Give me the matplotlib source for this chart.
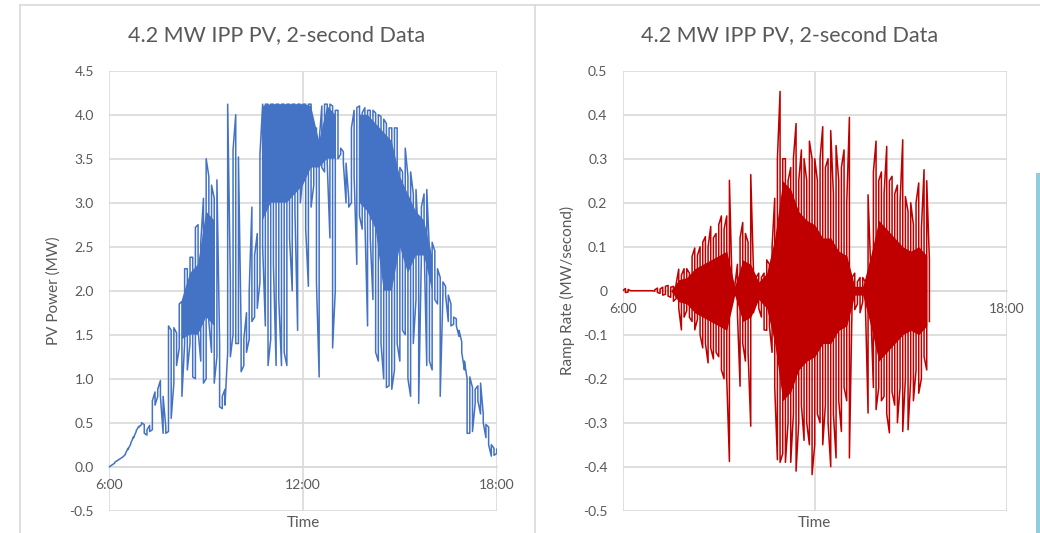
import matplotlib
matplotlib.use('Agg')
import matplotlib.pyplot as plt
import numpy as np
from matplotlib.lines import Line2D
from matplotlib.patches import Rectangle

plt.rcParams['font.family'] = ['Lato', 'DejaVu Sans']

# PV power (MW), max / min seen in each 5-minute slot from 6:00 to 18:00
pv_hi = [
    0.00, 0.02, 0.05, 0.07, 0.09, 0.11, 0.15, 0.21, 0.27, 0.34, 0.41, 0.46,   # 6
    0.50, 0.48, 0.42, 0.47, 0.75, 0.85, 0.88, 0.98, 0.80, 0.45, 1.60, 1.55,   # 7
    1.58, 1.52, 1.85, 1.88, 2.25, 2.25, 2.38, 2.38, 2.72, 2.75, 2.55, 3.05,   # 8
    3.50, 3.30, 3.20, 3.05, 3.26, 1.40, 0.80, 0.88, 4.12, 2.10, 3.60, 4.00,   # 9
    3.52, 1.55, 1.45, 1.75, 2.00, 2.95, 2.40, 2.65, 3.55, 4.12, 4.12, 4.12,   # 10
    4.12, 4.12, 4.12, 4.12, 4.12, 4.12, 4.12, 4.12, 4.12, 4.12, 4.12, 4.12,   # 11
    4.12, 4.12, 4.12, 4.12, 3.75, 3.85, 3.70, 4.10, 4.12, 4.12, 4.12, 4.10,   # 12
    4.05, 4.05, 3.62, 3.58, 3.45, 3.05, 3.85, 4.05, 4.08, 4.10, 4.02, 4.08,   # 13
    4.05, 4.05, 4.05, 4.02, 4.00, 3.98, 3.95, 3.90, 3.85, 3.85, 3.85, 3.85,   # 14
    3.40, 3.35, 3.62, 3.30, 3.35, 3.10, 3.15, 2.50, 2.95, 3.10, 3.15, 2.45,   # 15
    2.55, 2.45, 2.25, 2.15, 2.10, 2.05, 1.95, 1.85, 1.70, 1.68, 1.55, 1.42,   # 16
    1.20, 1.00, 1.02, 0.90, 0.88, 0.92, 0.95, 0.60, 0.48, 0.45, 0.25, 0.21,   # 17
    0.20]
pv_lo = [
    0.00, 0.02, 0.04, 0.07, 0.09, 0.11, 0.14, 0.20, 0.26, 0.33, 0.40, 0.45,
    0.48, 0.38, 0.36, 0.40, 0.42, 0.70, 0.80, 0.80, 0.38, 0.38, 0.40, 0.55,
    0.95, 1.15, 1.35, 0.80, 1.40, 1.10, 1.40, 1.02, 1.00, 1.55, 1.20, 0.95,
    1.00, 1.65, 1.30, 0.95, 1.25, 0.68, 0.66, 0.70, 1.30, 1.25, 1.50, 1.40,
    1.40, 1.08, 1.15, 1.30, 1.45, 1.65, 1.70, 1.80, 2.10, 2.50, 1.60, 1.15,
    1.45, 2.30, 1.15, 1.90, 1.15, 1.30, 1.15, 2.60, 2.00, 2.90, 1.55, 3.00,
    3.30, 2.70, 2.05, 2.95, 3.20, 2.10, 1.02, 3.40, 3.35, 3.45, 2.60, 1.35,
    2.00, 3.50, 3.55, 3.45, 3.00, 2.95, 3.00, 3.30, 2.30, 2.85, 2.70, 2.80,
    1.60, 2.60, 1.90, 1.30, 1.20, 1.40, 1.00, 0.90, 0.92, 0.88, 1.10, 1.40,
    1.20, 1.55, 1.50, 1.00, 0.80, 1.40, 1.90, 0.72, 2.40, 2.55, 1.15, 1.20,
    1.10, 1.90, 1.85, 0.80, 1.95, 1.95, 1.65, 1.60, 1.62, 1.60, 1.48, 1.30,
    1.10, 0.38, 0.38, 0.40, 0.72, 0.75, 0.60, 0.50, 0.33, 0.25, 0.12, 0.13,
    0.15]

# solid part of the PV trace, every 15 minutes from 6:00 (None = no solid band)
pv_core_top = [
    None, None, None, None, None, None, None, None,
    None, 1.90, 2.20, 2.30, 2.90, 2.80, None, None,
    None, None, None, 4.10, 4.12, 4.12, 4.12, 4.12,
    4.12, 4.10, 3.70, 4.10, 4.00, None, None, 4.00,
    4.00, 3.90, 3.80, 3.70, 3.30, 3.10, 2.90, 2.80,
    2.40, None, None, None, None, None, None, None, None]
pv_core_bot = [
    None, None, None, None, None, None, None, None,
    None, 1.45, 1.50, 1.50, 1.70, 1.60, None, None,
    None, None, None, 2.80, 3.00, 3.00, 3.00, 3.10,
    3.20, 3.40, 3.40, 3.50, 3.50, None, None, 3.00,
    2.90, 2.70, 2.00, 2.00, 2.50, 2.20, 2.40, 2.40,
    2.00, None, None, None, None, None, None, None, None]

# ramp rate (MW/second), max / min per 5-minute slot from 6:00 to 15:35
ramp_hi = [
    0.000, 0.005, 0.003, 0.000, 0.000, 0.000, 0.000, 0.000, 0.000, 0.000, 0.000, 0.000,
    0.002, 0.006, 0.004, 0.008, 0.010, 0.012, 0.008, 0.010, 0.015, 0.049, 0.035, 0.050,
    0.050, 0.040, 0.078, 0.097, 0.080, 0.100, 0.110, 0.123, 0.100, 0.146, 0.120, 0.130,
    0.150, 0.170, 0.140, 0.170, 0.251, 0.012, 0.010, 0.060, 0.120, 0.155, 0.130, 0.110,
    0.264, 0.050, 0.030, 0.040, 0.030, 0.040, 0.070, 0.060, 0.100, 0.210, 0.300, 0.453,
    0.300, 0.300, 0.250, 0.280, 0.300, 0.380, 0.250, 0.320, 0.300, 0.250, 0.340, 0.300,
    0.300, 0.250, 0.300, 0.373, 0.280, 0.300, 0.364, 0.220, 0.330, 0.250, 0.280, 0.320,
    0.200, 0.394, 0.030, 0.040, 0.020, 0.030, 0.030, 0.020, 0.218, 0.050, 0.270, 0.340,
    0.250, 0.270, 0.220, 0.328, 0.250, 0.260, 0.220, 0.240, 0.200, 0.343, 0.214, 0.180,
    0.200, 0.150, 0.200, 0.245, 0.140, 0.275, 0.250, 0.070]
ramp_lo = [
    0.000, -0.004, -0.003, 0.000, 0.000, 0.000, 0.000, 0.000, 0.000, 0.000, 0.000, 0.000,
    -0.001, -0.004, -0.006, -0.010, -0.008, -0.012, -0.015, -0.024, -0.018, -0.040, -0.089, -0.060,
    -0.045, -0.060, -0.070, -0.089, -0.065, -0.100, -0.130, -0.120, -0.164, -0.130, -0.155, -0.140,
    -0.150, -0.180, -0.200, -0.200, -0.388, -0.010, -0.012, -0.050, -0.217, -0.120, -0.160, -0.140,
    -0.308, -0.050, -0.030, -0.040, -0.060, -0.089, -0.090, -0.080, -0.140, -0.220, -0.384, -0.390,
    -0.370, -0.390, -0.300, -0.390, -0.280, -0.410, -0.300, -0.260, -0.340, -0.300, -0.350, -0.418,
    -0.350, -0.280, -0.300, -0.350, -0.260, -0.300, -0.400, -0.280, -0.380, -0.250, -0.320, -0.220,
    -0.250, -0.380, -0.030, -0.043, -0.030, -0.050, -0.025, -0.030, -0.278, -0.040, -0.220, -0.270,
    -0.220, -0.250, -0.240, -0.280, -0.323, -0.230, -0.260, -0.300, -0.220, -0.320, -0.200, -0.316,
    -0.200, -0.250, -0.180, -0.233, -0.200, -0.150, -0.180, -0.070]

# half-height of the solid part of the ramp trace, every 15 minutes from 6:00
ramp_core = [
    0.00, 0.00, 0.00, 0.00, 0.00, 0.00, 0.00, 0.025,
    0.03, 0.05, 0.06, 0.07, 0.08, 0.09, 0.01, 0.07,
    0.06, 0.02, 0.04, 0.12, 0.25, 0.23, 0.18, 0.16,
    0.15, 0.12, 0.12, 0.09, 0.08, 0.01, 0.01, 0.08,
    0.16, 0.14, 0.12, 0.10, 0.09, 0.10, 0.08]

time_ticks = [6, 12, 18]
time_labels = ['6:00', '12:00', '18:00']
title = '4.2 MW IPP PV, 2-second Data'

grey = '#595959'
gridc = '#d9d9d9'
blue = '#4472c4'
red = '#c00000'


def zigzag(hi, lo):
    # one vertical stroke per 5-minute slot, joined like a square wave
    t = 6 + np.arange(len(hi)) / 12.0
    xs = np.repeat(t, 2)
    ys = []
    for i in range(len(hi)):
        if i % 2 == 0:
            ys += [lo[i], hi[i]]
        else:
            ys += [hi[i], lo[i]]
    return xs, ys


def style(ax, yticks, ylabels, ylabel):
    ax.set_xlim(6, 18)
    ax.set_ylim(yticks[0], yticks[-1])
    ax.set_xticks(time_ticks)
    ax.set_xticklabels(time_labels)
    ax.set_yticks(yticks)
    ax.set_yticklabels(ylabels)
    ax.grid(True, color=gridc, lw=1.2, zorder=0)
    ax.set_axisbelow(True)
    for s in ['top', 'right', 'left']:
        ax.spines[s].set_visible(False)
    ax.spines['bottom'].set_position(('data', 0))
    ax.spines['bottom'].set_color(gridc)
    ax.spines['bottom'].set_linewidth(1.2)
    ax.spines['bottom'].set_zorder(0.5)
    ax.tick_params(length=0, colors=grey, labelsize=10)
    ax.tick_params(axis='y', pad=11)
    ax.tick_params(axis='x', pad=9)
    ax.text(-0.145, 0.5, ylabel, transform=ax.transAxes, rotation=90,
            ha='center', va='center', color=grey, fontsize=11)
    ax.text(0.5, -0.028, 'Time', transform=ax.transAxes,
            ha='center', va='center', color=grey, fontsize=11)


fig = plt.figure(figsize=(10.4, 5.33), dpi=100)
ax1 = fig.add_axes([0.1051, 0.0418, 0.3725, 0.8255])
ax2 = fig.add_axes([0.5988, 0.0418, 0.3692, 0.8255])

t15 = 6 + np.arange(len(pv_core_top)) / 4.0
ax1.fill_between(t15, np.array(pv_core_bot, dtype=float),
                 np.array(pv_core_top, dtype=float), color=blue, lw=0, zorder=2)
x, y = zigzag(pv_hi, pv_lo)
ax1.plot(x, y, color=blue, lw=1.1, zorder=3)
yt1 = [-0.5, 0.0, 0.5, 1.0, 1.5, 2.0, 2.5, 3.0, 3.5, 4.0, 4.5]
style(ax1, yt1, ['%.1f' % v for v in yt1], 'PV Power (MW)')

t15 = 6 + np.arange(len(ramp_core)) / 4.0
core = np.array(ramp_core)
ax2.fill_between(t15, -core, core, color=red, lw=0, zorder=2)
x, y = zigzag(ramp_hi, ramp_lo)
ax2.plot(x, y, color=red, lw=1.1, zorder=3)
yt2 = [-0.5, -0.4, -0.3, -0.2, -0.1, 0.0, 0.1, 0.2, 0.3, 0.4, 0.5]
style(ax2, yt2, ['0' if v == 0 else '%.1f' % v for v in yt2], 'Ramp Rate (MW/second)')

fig.text(276.6 / 1040, 1 - 41 / 533, title, ha='center', va='baseline',
         color=grey, fontsize=15.5)
fig.text(789.5 / 1040, 1 - 41 / 533, title, ha='center', va='baseline',
         color=grey, fontsize=15.5)


# chart area borders and the strip at the right edge
def px_line(x0, y0, x1, y1):
    fig.add_artist(Line2D([x0 / 1040, x1 / 1040], [1 - y0 / 533, 1 - y1 / 533],
                          transform=fig.transFigure, color=gridc, lw=1.2))


px_line(20, 5, 1040, 5)
px_line(20, 5, 20, 533)
px_line(535, 5, 535, 533)
fig.add_artist(Rectangle((1036 / 1040, 0), 4 / 1040, (533 - 173) / 533,
                         transform=fig.transFigure, color='#8fcfdd', lw=0))

fig.savefig('out.png', dpi=100)
